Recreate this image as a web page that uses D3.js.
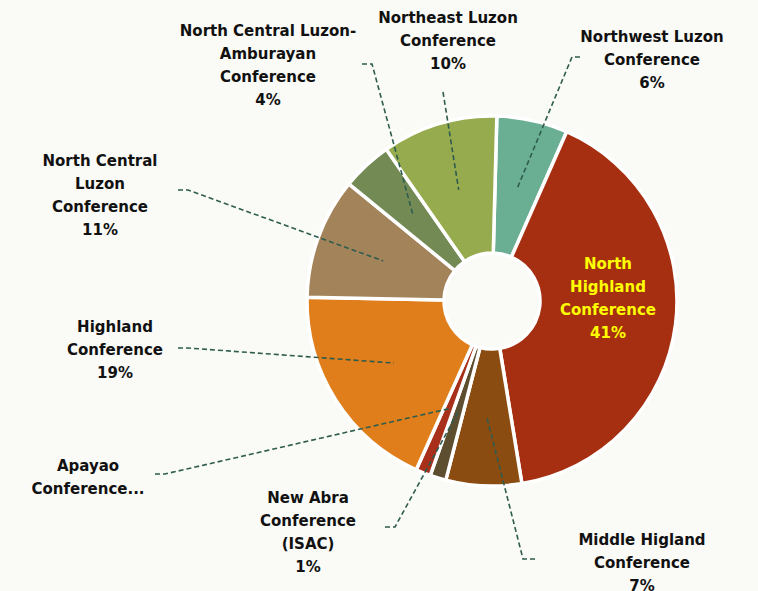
<!DOCTYPE html>
<html>
<head>
<meta charset="utf-8">
<script src="https://cdn.jsdelivr.net/npm/d3@7"></script>
<style>
  body { margin: 0; background: #fafaf6; }
  svg { display: block; }
  text { font-family: "DejaVu Sans", sans-serif; font-weight: bold; font-size: 15px; }
</style>
</head>
<body>
<svg id="chart" width="758" height="591"></svg>
<script>
// datos del gráfico (sentido horario desde arriba)
const names = [
  ["Northwest Luzon", "Conference"],
  ["North", "Highland", "Conference"],
  ["Middle Higland", "Conference"],
  ["New Abra", "Conference", "(ISAC)"],
  ["Apayao", "Conference..."],
  ["Highland", "Conference"],
  ["North Central", "Luzon", "Conference"],
  ["North Central Luzon-", "Amburayan", "Conference"],
  ["Northeast Luzon", "Conference"]
];
const values = [6.2, 40.8, 6.6, 1.4, 1.3, 18.6, 10.6, 4.4, 10.1];
const pctLabels = ["6%", "41%", "7%", "1%", "", "19%", "11%", "4%", "10%"];
const colors = ["#6aae94", "#a52f10", "#8a4c10", "#5e4e30", "#a8301a",
                "#df7e1a", "#a3845a", "#738a55", "#96ab4e"];

// posición de las etiquetas y del codo de cada línea guía
const labelPos = [
  { x: 652, y: 42, elbow: [580, 57] },
  { x: 608, y: 269, elbow: null },
  { x: 642, y: 545, elbow: [535, 559] },
  { x: 308, y: 503, elbow: [395, 527] },
  { x: 88, y: 471, elbow: [165, 474] },
  { x: 115, y: 332, elbow: [188, 348] },
  { x: 100, y: 166, elbow: [188, 190] },
  { x: 268, y: 36, elbow: [372, 64] },
  { x: 448, y: 23, elbow: [443, 92] }
];

const cx = 492, cy = 301;
const rOuter = 185, rInner = 48;
const startDeg = 1.5;

const svg = d3.select("#chart");
const g = svg.append("g").attr("transform", `translate(${cx},${cy})`);

const pie = d3.pie()
  .sort(null)
  .value(d => d)
  .startAngle(startDeg * Math.PI / 180)
  .endAngle((360 + startDeg) * Math.PI / 180);

const arcs = pie(values);

const arc = d3.arc().innerRadius(rInner).outerRadius(rOuter);
const tipArc = d3.arc().innerRadius(116).outerRadius(116);

g.selectAll("path.slice")
  .data(arcs).enter().append("path")
  .attr("class", "slice")
  .attr("d", arc)
  .attr("fill", (d, i) => colors[i])
  .attr("stroke", "#ffffff")
  .attr("stroke-width", 3.5)
  .attr("stroke-linejoin", "round");

// líneas guía discontinuas
arcs.forEach((d, i) => {
  const p = labelPos[i];
  if (!p.elbow) return;
  const c = tipArc.centroid(d);
  const tip = [c[0] + cx, c[1] + cy];
  const dirX = p.elbow[0] < tip[0] ? -8 : 8;
  let start = [p.elbow[0] + (i === 8 ? 0 : dirX * 0), p.elbow[1]];
  const pts = [];
  if (i === 8) {
    pts.push(start, tip);
  } else {
    // pequeño tramo horizontal junto a la etiqueta
    const hx = p.x < cx ? p.elbow[0] - 10 : p.elbow[0] + 10;
    if (i === 0) pts.push([p.elbow[0] - 0, p.elbow[1]], [p.elbow[0] - 8, p.elbow[1]], tip);
    else if (i === 2) pts.push([p.elbow[0], p.elbow[1]], [p.elbow[0] - 12, p.elbow[1]], tip);
    else pts.push([p.elbow[0] - 10, p.elbow[1]], [p.elbow[0], p.elbow[1]], tip);
  }
  svg.append("path")
    .attr("d", d3.line()(pts))
    .attr("fill", "none")
    .attr("stroke", "#2e5c4f")
    .attr("stroke-width", 1.6)
    .attr("stroke-dasharray", "5,3");
});

// etiquetas
arcs.forEach((d, i) => {
  const p = labelPos[i];
  const lines = names[i].concat(pctLabels[i] ? [pctLabels[i]] : []);
  const t = svg.append("text")
    .attr("text-anchor", "middle")
    .attr("fill", i === 1 ? "#ffff00" : "#111111");
  lines.forEach((s, k) => {
    t.append("tspan")
      .attr("x", p.x)
      .attr("y", p.y + k * 23)
      .text(s);
  });
});
</script>
</body>
</html>
